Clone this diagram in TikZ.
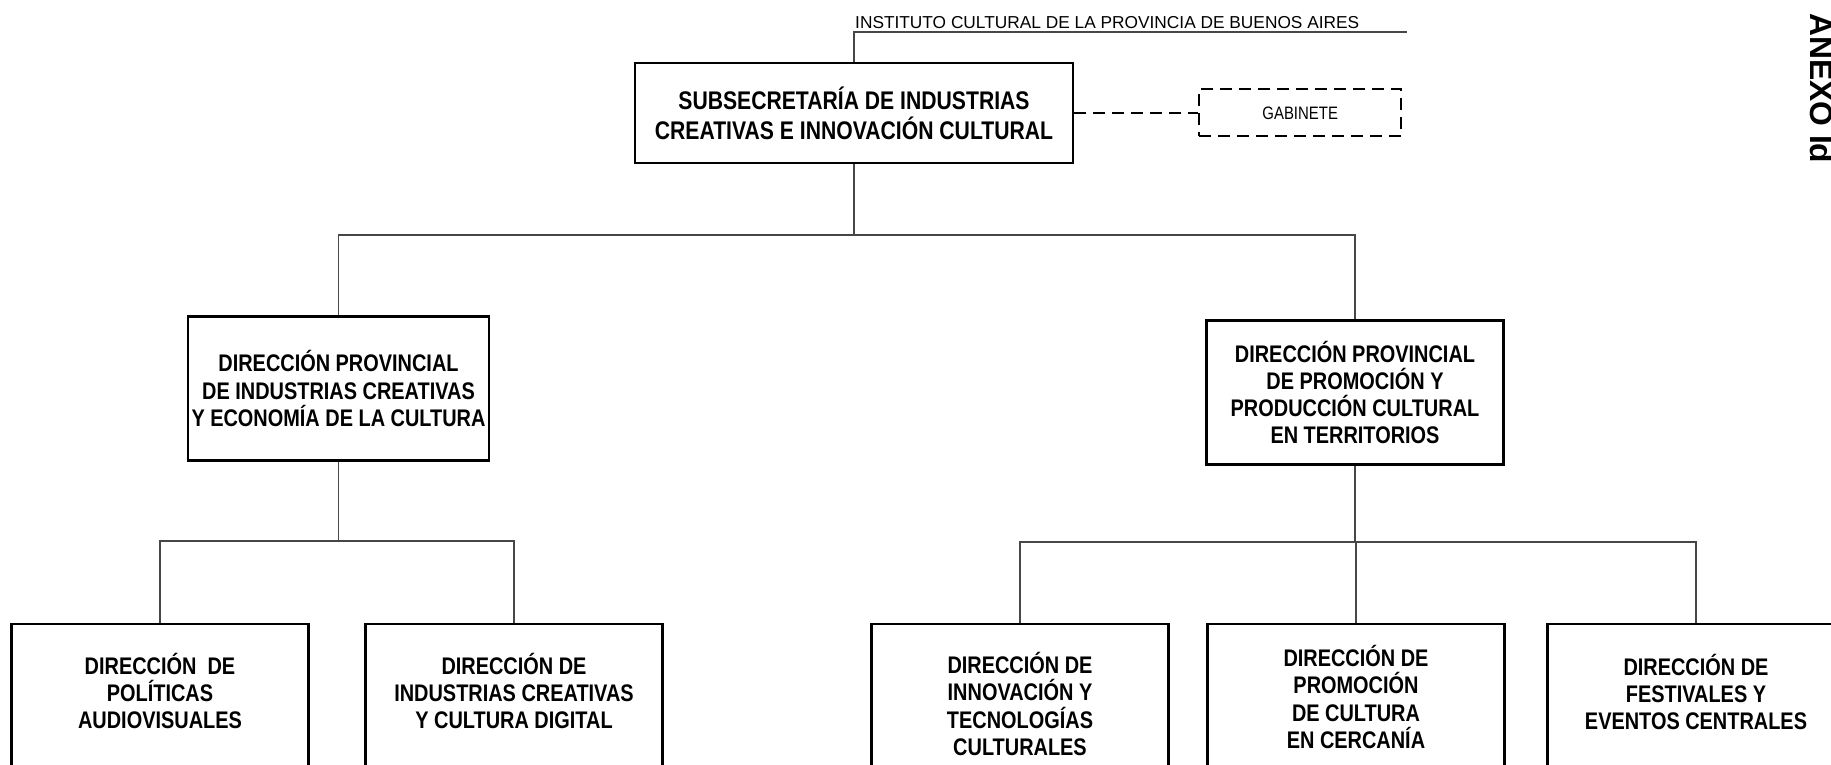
\documentclass[tikz,border=0pt]{standalone}
\usepackage{fontspec}
\setmainfont{Liberation Sans}
\newfontfamily\narrowfont[FakeStretch=0.83]{Liberation Sans}
\usetikzlibrary{positioning}

\tikzset{
  headbox/.style = {draw, line width=2.4pt, minimum width=438pt, minimum height=100pt, align=center, font=\narrowfont\bfseries\fontsize{25.5}{30}\selectfont},
  dirbox/.style = {draw, line width=2.4pt, minimum width=297pt, minimum height=144pt, align=center, font=\narrowfont\bfseries\fontsize{24}{27.2}\selectfont},
  leafbox/.style = {draw, line width=2.4pt, minimum width=297pt, minimum height=220pt, anchor=north},
  leaftext/.style = {align=center, font=\narrowfont\bfseries\fontsize{24}{27.2}\selectfont},
  gabbox/.style = {draw, line width=2pt, dash pattern=on 12pt off 7pt, minimum width=202pt, minimum height=47pt, font=\narrowfont\fontsize{18}{20}\selectfont},
  link/.style = {draw=black!72, line width=1.3pt},
  dashlink/.style = {line width=2pt, dash pattern=on 12pt off 7pt},
}

\begin{document}
\begin{tikzpicture}[x=1pt, y=-1pt]
  \useasboundingbox (0,0) rectangle (1831,765);
  \clip (0,0) rectangle (1831,765);

  % head of the chart
  \node[anchor=base west, inner sep=0, font=\fontsize{17.3}{20}\selectfont] (inst) at (855,29) {INSTITUTO CULTURAL DE LA PROVINCIA DE BUENOS AIRES};
  \coordinate (instend) at (1407,32);
  \node[headbox] (subsec) at (854,113) {SUBSECRETARÍA DE INDUSTRIAS\\CREATIVAS E INNOVACIÓN CULTURAL};
  \node[gabbox, right=124pt of subsec] (gab) {GABINETE};
  \node[anchor=base west, inner sep=0, rotate=-90, font=\bfseries\fontsize{31.8}{34}\selectfont] (anexo) at (1810,13) {ANEXO Id};

  % direcciones provinciales
  \node[dirbox] (dpind) at (338.5,388.5) {DIRECCIÓN PROVINCIAL\\DE INDUSTRIAS CREATIVAS\\Y ECONOMÍA DE LA CULTURA};
  \node[dirbox] (dpprom) at (1355,392.5) {DIRECCIÓN PROVINCIAL\\DE PROMOCIÓN Y\\PRODUCCIÓN CULTURAL\\EN TERRITORIOS};

  % direcciones
  \node[leafbox] (audio) at (160,623) {};
  \node[leafbox] (digital) at (514,623) {};
  \node[leafbox] (innov) at (1020,623) {};
  \node[leafbox] (cercania) at (1356,623) {};
  \node[leafbox] (festival) at (1696,623) {};
  \node[leaftext] at ([yshift=-68pt]audio.north) {DIRECCIÓN~~DE\\POLÍTICAS\\AUDIOVISUALES};
  \node[leaftext] at ([yshift=-68pt]digital.north) {DIRECCIÓN DE\\INDUSTRIAS CREATIVAS\\Y CULTURA DIGITAL};
  \node[leaftext] at ([yshift=-81pt]innov.north) {DIRECCIÓN DE\\INNOVACIÓN Y\\TECNOLOGÍAS\\CULTURALES};
  \node[leaftext] at ([yshift=-74pt]cercania.north) {DIRECCIÓN DE\\PROMOCIÓN\\DE CULTURA\\EN CERCANÍA};
  \node[leaftext] at ([yshift=-69pt]festival.north) {DIRECCIÓN DE\\FESTIVALES Y\\EVENTOS CENTRALES};

  % connectors
  \draw[link] (subsec.north) -- (subsec.north |- instend) -- (instend);
  \draw[dashlink] (subsec.east |- gab.west) -- (gab.west);
  \coordinate (bustop) at (854,235);
  \draw[link] (subsec.south) -- (bustop);
  \draw[link] (dpind.north) |- (bustop) -| (dpprom.north);
  \coordinate (busind) at (338.5,541);
  \draw[link] (dpind.south) -- (busind);
  \draw[link] (audio.north) |- (busind) -| (digital.north);
  \coordinate (busprom) at (1355,542);
  \draw[link] (dpprom.south) -- (busprom);
  \draw[link] (innov.north) |- (busprom) -| (festival.north);
  \draw[link] (cercania.north) -- (cercania.north |- busprom);
\end{tikzpicture}
\end{document}
